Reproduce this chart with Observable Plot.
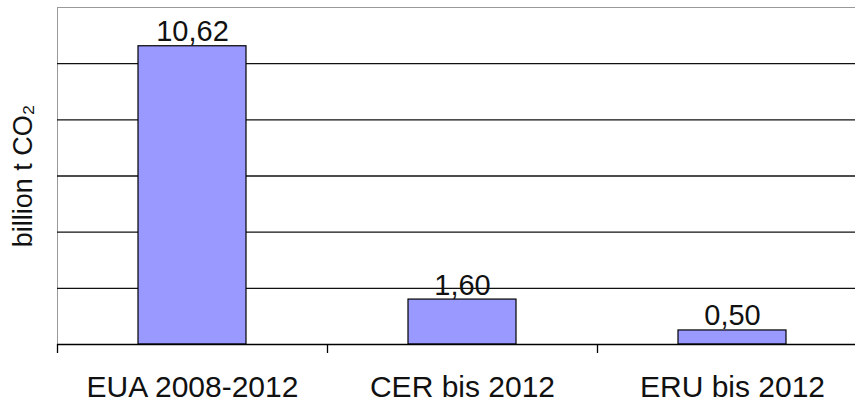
<!DOCTYPE html>
<html>
<head>
<meta charset="utf-8">
<script src="https://cdn.jsdelivr.net/npm/d3@7"></script>
<script src="https://cdn.jsdelivr.net/npm/@observablehq/plot@0.6"></script>
<style>
  html, body { margin: 0; padding: 0; background: #fff; }
  svg { display: block; }
</style>
</head>
<body>
<div id="chart"></div>
<script>
const categories = ["EUA 2008-2012", "CER bis 2012", "ERU bis 2012"];
const values = [10.62, 1.60, 0.50];
const valueLabels = ["10,62", "1,60", "0,50"];
const gridValues = [2, 4, 6, 8, 10];
const yLabel = "billion t CO₂";

const data = categories.map((c, i) => ({i, category: c, value: values[i], label: valueLabels[i]}));
const bounds = d3.range(categories.length + 1);

const chart = Plot.plot({
  width: 855,
  height: 402,
  marginLeft: 57,
  marginRight: 0,
  marginTop: 7,
  marginBottom: 58,
  style: {fontFamily: "'Liberation Sans', Arial, sans-serif", background: "#fff"},
  x: {type: "linear", domain: [0, categories.length], range: [57, 867], axis: null},
  y: {type: "linear", domain: [0, 12], axis: null},
  marks: [
    Plot.ruleY([12], {stroke: "#999", strokeWidth: 1}),
    Plot.ruleX([0], {stroke: "#999", strokeWidth: 1}),
    Plot.ruleY(gridValues, {stroke: "#111", strokeWidth: 1.3}),
    Plot.rectY(data, {x1: d => d.i + 0.3, x2: d => d.i + 0.7, y: "value", fill: "#9999FF", stroke: "#000", strokeWidth: 1.2}),
    Plot.ruleY([0], {stroke: "#000", strokeWidth: 1.3}),
    Plot.axisX(bounds, {tickSize: 9, tickFormat: () => "", stroke: "#000", strokeWidth: 1.3, strokeOpacity: 1}),
    Plot.text(data, {x: d => d.i + 0.5, y: "value", text: "label", dy: -5, lineAnchor: "bottom", fontSize: 29, fill: "#111"}),
    Plot.text(data, {x: d => d.i + 0.5, y: 0, text: "category", dy: 52, lineAnchor: "bottom", fontSize: 30, fill: "#111"}),
    Plot.text([yLabel], {frameAnchor: "left", text: d => d, rotate: -90, textAnchor: "middle", dx: -34, fontSize: 27, fill: "#111"})
  ]
});
document.getElementById("chart").appendChild(chart);
</script>
</body>
</html>
